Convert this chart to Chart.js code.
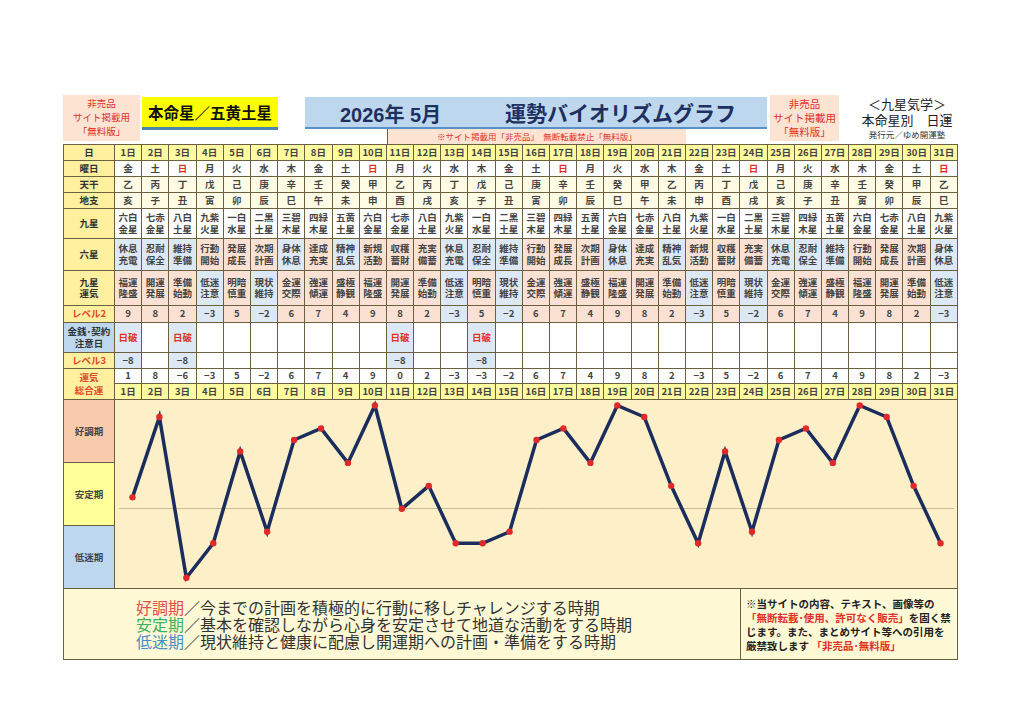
<!DOCTYPE html>
<html lang="ja">
<head>
<meta charset="utf-8">
<script src="https://cdn.jsdelivr.net/npm/chart.js@4"></script>
<style>
  body { margin: 0; background: #fff; font-family: "Noto Sans CJK JP", "Noto Sans", sans-serif; color: #333; }
  #page { position: relative; width: 1024px; height: 724px; overflow: hidden; }
  .abs { position: absolute; }
  .red { color: #e0302a; }
  .latin { font-family: "Liberation Sans", "Noto Sans CJK JP", sans-serif; }
  table.grid { position: absolute; left: 63px; top: 144px; width: 895px; border-collapse: collapse; table-layout: fixed; }
  table.grid td { border: 1px solid #6b6040; text-align: center; font-size: 9.5px; line-height: 11.5px; padding: 0; font-weight: 600; color: #444; }
  table.grid td.lab { background: #fff0a0; color: #333; font-weight: 700; }
  table.grid td.lab.redtxt { color: #e04a2a; }
  .pink { background: #fbe1d3; }
  .blue { background: #dce8f4; }
  .yel { background: #fffba0; }
  .cream { background: #fffbe4; }
  #chartbox { position: absolute; left: 63px; top: 399px; width: 895px; height: 190px; border: 1px solid #6b6040; box-sizing: border-box; background: #fdf0c9; }
  .band { position: absolute; left: 0; width: 51px; height: 63px; display: flex; align-items: center; justify-content: center; font-size: 9.5px; font-weight: 600; color: #444; border-right: 1px solid #6b6040; border-bottom: 1px solid #6b6040; box-sizing: border-box; }
  #plot { position: absolute; left: 51px; top: 0; width: 843px; height: 188px; }
  #bottom { position: absolute; left: 63px; top: 588px; width: 895px; height: 72px; border: 1px solid #6b6040; box-sizing: border-box; background: #fff9d6; }
</style>
</head>
<body>
<div id="page">
  <!-- header -->
  <div class="abs red" style="left:63px;top:95px;width:77px;height:46px;background:#fde4d2;font-size:9.5px;line-height:14px;text-align:center;padding-top:1px;box-sizing:border-box;">非売品<br>サイト掲載用<br>「無料版」</div>
  <div class="abs" style="left:142px;top:97px;width:136px;height:30px;background:#ffff00;border-bottom:3px solid #4f86b0;font-size:15.5px;font-weight:700;line-height:30px;text-align:center;color:#111;">本命星／五黄土星</div>
  <div class="abs" style="left:305px;top:97px;width:462px;height:30px;background:#bdd7ee;border-bottom:2px solid #5b8fc8;color:#1f3060;font-weight:700;">
    <span class="abs latin" style="left:35px;top:2px;font-size:20px;">2026年 5月</span>
    <span class="abs" style="left:200px;top:0px;font-size:21px;">運勢バイオリズムグラフ</span>
  </div>
  <div class="abs" style="left:387px;top:129px;width:1px;height:15px;background:#6b6040;"></div>
  <div class="abs red" style="left:388px;top:129px;width:298px;height:15px;background:#fde4d2;font-size:8.5px;line-height:15px;text-align:center;">※サイト掲載用「非売品」　無断転載禁止「無料版」</div>
  <div class="abs red" style="left:770px;top:95px;width:69px;height:46px;background:#fde4d2;font-size:10.5px;line-height:14px;text-align:center;padding-top:2px;box-sizing:border-box;">非売品<br>サイト掲載用<br>「無料版」</div>
  <div class="abs" style="left:848px;top:96px;width:118px;text-align:center;font-size:13px;line-height:16px;color:#222;">＜九星気学＞<br>本命星別　日運</div>
  <div class="abs" style="left:848px;top:128px;width:118px;text-align:center;font-size:8.5px;color:#333;">発行元／ゆめ開運塾</div>

  <table class="grid" id="grid"></table>

  <div id="chartbox">
    <div class="band" style="top:0;background:#f8cbad;">好調期</div>
    <div class="band" style="top:63px;background:#ffff99;">安定期</div>
    <div class="band" style="top:126px;height:62px;border-bottom:none;background:#bdd7ee;">低迷期</div>
    <div id="plot"><canvas id="biorhythm"></canvas></div>
  </div>

  <div id="bottom">
    <div class="abs" style="left:72px;top:10px;font-size:16px;line-height:16.8px;color:#333;">
      <span style="color:#e0504a;">好調期</span>／今までの計画を積極的に行動に移しチャレンジする時期<br>
      <span style="color:#3cb060;">安定期</span>／基本を確認しながら心身を安定させて地道な活動をする時期<br>
      <span style="color:#4a8ec8;">低迷期</span>／現状維持と健康に配慮し開運期への計画・準備をする時期
    </div>
    <div class="abs" style="left:676px;top:0;width:1px;height:70px;background:#6b6040;"></div>
    <div class="abs" style="left:682px;top:8px;width:215px;font-size:10.5px;line-height:14px;color:#222;font-weight:600;">
      ※当サイトの内容、テキスト、画像等の<br><span class="red">「無断転載･使用、許可なく販売」</span>を固く禁<br>じます。また、まとめサイト等への引用を<br>厳禁致します <span class="red">「非売品･無料版」</span>
    </div>
  </div>
</div>

<script>
// ---------- Data ----------
const days = Array.from({ length: 31 }, (_, i) => `${i + 1}日`);
const weekdays = ["金","土","日","月","火","水","木","金","土","日","月","火","水","木","金","土","日","月","火","水","木","金","土","日","月","火","水","木","金","土","日"];
const stems = ["乙","丙","丁","戊","己","庚","辛","壬","癸","甲","乙","丙","丁","戊","己","庚","辛","壬","癸","甲","乙","丙","丁","戊","己","庚","辛","壬","癸","甲","乙"];
const branches = ["亥","子","丑","寅","卯","辰","巳","午","未","申","酉","戌","亥","子","丑","寅","卯","辰","巳","午","未","申","酉","戌","亥","子","丑","寅","卯","辰","巳"];
const nineStars = ["六白金星","七赤金星","八白土星","九紫火星","一白水星","二黒土星","三碧木星","四緑木星","五黄土星",
  "六白金星","七赤金星","八白土星","九紫火星","一白水星","二黒土星","三碧木星","四緑木星","五黄土星",
  "六白金星","七赤金星","八白土星","九紫火星","一白水星","二黒土星","三碧木星","四緑木星","五黄土星",
  "六白金星","七赤金星","八白土星","九紫火星"];
const sixStars = ["休息充電","忍耐保全","維持準備","行動開始","発展成長","次期計画","身体休息","達成充実","精神乱気","新規活動","収穫蓄財","充実備蓄",
  "休息充電","忍耐保全","維持準備","行動開始","発展成長","次期計画","身体休息","達成充実","精神乱気","新規活動","収穫蓄財","充実備蓄",
  "休息充電","忍耐保全","維持準備","行動開始","発展成長","次期計画","身体休息"];
const restSixStars = ["休息充電","忍耐保全","維持準備","身体休息","精神乱気"];
const fortunes = ["福運隆盛","開運発展","準備始動","低迷注意","明暗慎重","現状維持","金運交際","強運傾運","盛極静観",
  "福運隆盛","開運発展","準備始動","低迷注意","明暗慎重","現状維持","金運交際","強運傾運","盛極静観",
  "福運隆盛","開運発展","準備始動","低迷注意","明暗慎重","現状維持","金運交際","強運傾運","盛極静観",
  "福運隆盛","開運発展","準備始動","低迷注意"];
const lowFortunes = ["低迷注意","現状維持"];
const level2 = [9,8,2,-3,5,-2,6,7,4,9,8,2,-3,5,-2,6,7,4,9,8,2,-3,5,-2,6,7,4,9,8,2,-3];
const caution = {1: "日破", 3: "日破", 11: "日破", 14: "日破"};
const level3 = {1: -8, 3: -8, 11: -8, 14: -8};
const total = [1,8,-6,-3,5,-2,6,7,4,9,0,2,-3,-3,-2,6,7,4,9,8,2,-3,5,-2,6,7,4,9,8,2,-3];

// ---------- Grid table ----------
const fmt = v => (v < 0 ? "−" + Math.abs(v) : String(v));
const two = s => s.slice(0, 2) + "<br>" + s.slice(2);

function row(height, label, labClass, cells) {
  return `<tr style="height:${height}px"><td class="lab ${labClass || ""}">${label}</td>${cells.join("")}</tr>`;
}

const grid = document.getElementById("grid");
let html = `<colgroup><col style="width:51px">${days.map(() => '<col>').join("")}</colgroup>`;
html += row(16, "日", "", days.map(d => `<td class="yel">${d}</td>`));
html += row(16, "曜日", "", weekdays.map(w => `<td style="background:#fff;${w === "日" ? "color:#e0302a" : ""}">${w}</td>`));
html += row(16, "天干", "", stems.map(s => `<td class="cream">${s}</td>`));
html += row(16, "地支", "", branches.map(s => `<td class="cream">${s}</td>`));
html += row(30, "九星", "", nineStars.map(s => `<td style="background:#fff">${two(s)}</td>`));
html += row(32, "六星", "", sixStars.map(s => `<td class="${restSixStars.includes(s) ? "blue" : "pink"}">${two(s)}</td>`));
html += row(35, "九星<br>運気", "", fortunes.map(s => `<td class="${lowFortunes.includes(s) ? "blue" : "pink"}">${two(s)}</td>`));
html += row(17, "レベル2", "redtxt", level2.map(v => `<td class="${v < 0 ? "blue" : "pink"}">${fmt(v)}</td>`));
html += `<tr style="height:30px"><td class="lab" style="background:#bdd7ee">金銭･契約<br>注意日</td>` +
  days.map((_, i) => caution[i + 1] ? `<td class="blue" style="color:#e0302a">${caution[i + 1]}</td>` : '<td style="background:#fff"></td>').join("") + "</tr>";
html += row(16, "レベル3", "redtxt", days.map((_, i) => level3[i + 1] != null ? `<td class="blue">${fmt(level3[i + 1])}</td>` : '<td style="background:#fff"></td>'));
html += `<tr style="height:15px"><td class="lab redtxt" rowspan="2" style="line-height:13px">運気<br>総合運</td>` +
  total.map(v => `<td style="background:#fff">${fmt(v)}</td>`).join("") + "</tr>";
html += `<tr style="height:16px">${days.map(d => `<td class="yel">${d}</td>`).join("")}</tr>`;
grid.innerHTML = html;

// ---------- Biorhythm line ----------
new Chart(document.getElementById("biorhythm"), {
  type: "line",
  data: {
    labels: days,
    datasets: [{
      data: total,
      borderColor: "#1b2d5c",
      borderWidth: 3.5,
      tension: 0,
      pointRadius: 3.2,
      pointBackgroundColor: "#e02a2a",
      pointBorderWidth: 0,
      clip: false,
    }]
  },
  options: {
    responsive: true, maintainAspectRatio: false, animation: false,
    layout: { padding: 0 },
    plugins: { legend: { display: false }, tooltip: { enabled: false } },
    scales: {
      x: { offset: true, grid: { display: false }, ticks: { display: false }, border: { display: false } },
      y: {
        min: -6.2, max: 9.13,
        afterBuildTicks: axis => { axis.ticks = [{ value: 0 }]; },
        grid: { color: "#cbbd9a", lineWidth: 1, drawTicks: false },
        ticks: { display: false }, border: { display: false }
      }
    }
  }
});
</script>
</body>
</html>
